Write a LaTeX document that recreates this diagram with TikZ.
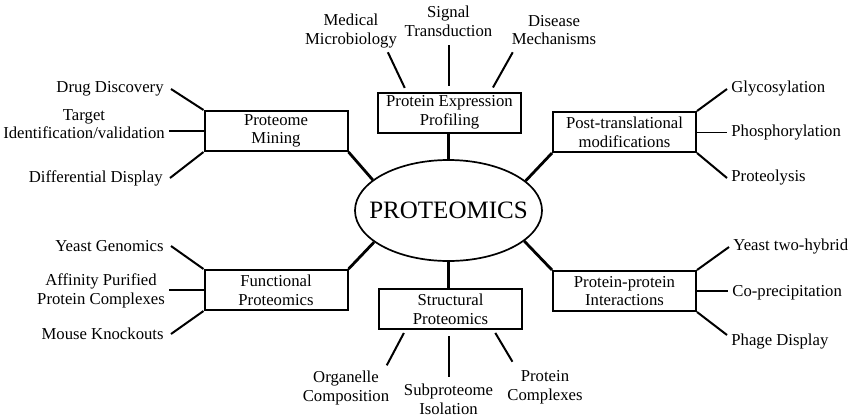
\documentclass[tikz,border=0pt]{standalone}
\usepackage{fontspec}
\setmainfont{Liberation Serif}
\usetikzlibrary{shapes.geometric}

\begin{document}
\begin{tikzpicture}[x=0.5pt,y=-0.5pt,font=\fontsize{8.35}{9.3}\selectfont]
% Map style
\tikzset{
    hub/.style={ellipse,draw,line width=0.85pt,minimum width=93.5pt,minimum height=50.5pt,inner sep=0pt},
    topic/.style={rectangle,draw,line width=1pt,minimum width=71.5pt,minimum height=20pt,inner sep=0pt,align=center},
    item/.style={align=center,inner sep=2pt},
    side/.style={inner sep=3.5pt},
    spoke/.style={line width=1.4pt},
    twig/.style={line width=1pt}
}
\useasboundingbox (0,0) rectangle (850,418);
% Centre and topics
\node[hub,label={[font=\fontsize{12.5}{15}\selectfont]center:PROTEOMICS}] (proteo) at (448.5,210.5){};
\node[topic] (expr) at (449.5,112.5){Protein Expression\\Profiling};
\node[topic] (mining) at (276,131){Proteome\\Mining};
\node[topic] (ptm) at (624.5,132){Post-translational\\modifications};
\node[topic] (func) at (276,290){Functional\\Proteomics};
\node[topic] (struct) at (450.5,309){Structural\\Proteomics};
\node[topic] (ppi) at (624.5,291){Protein-protein\\Interactions};
% Leaves
\node[item] (med) at (351,31){Medical\\Microbiology};
\node[item] (signal) at (448.5,21){Signal\\Transduction};
\node[item] (disease) at (554,30){Disease\\Mechanisms};
\node[side,anchor=east] (drug) at (171,89){Drug Discovery};
\node[item] (target) at (84,124){Target\\Identification/validation};
\node[side,anchor=east] (diff) at (170,178){Differential Display};
\node[item,anchor=west] (glyco) at (727,89){Glycosylation};
\node[item,anchor=west] (phospho) at (727,133){Phosphorylation};
\node[item,anchor=west] (lysis) at (727,178){Proteolysis};
\node[side,anchor=east] (yeastg) at (171,246){Yeast Genomics};
\node[item] (affinity) at (101,291){Affinity Purified\\Protein Complexes};
\node[side,anchor=east] (mouse) at (171,334){Mouse Knockouts};
\node[item,anchor=west] (yeasttwo) at (729,247){Yeast two-hybrid};
\node[item,anchor=west] (coprec) at (728,293){Co-precipitation};
\node[item,anchor=west] (phage) at (727,341){Phage Display};
\node[item] (organelle) at (346,388){Organelle\\Composition};
\node[item] (subprot) at (448.5,399){Subproteome\\Isolation};
\node[item] (complex) at (545,387){Protein\\Complexes};
% Spokes
\draw[spoke] (proteo.north |- expr.south) -- (proteo.north);
\draw[spoke] (mining.south east) -- (proteo.158);
\draw[spoke] (ptm.south west) -- (proteo.21);
\draw[spoke] (func.north east) -- (proteo.203);
\draw[spoke] (ppi.north west) -- (proteo.-22);
\draw[spoke] (proteo.south) -- (proteo.south |- struct.north);
% Twigs
\draw[twig,shorten <=2pt] (expr.154) -- (med.-30);
\draw[twig,shorten <=3pt,shorten >=2pt] (signal.south |- expr.north) -- (signal.south);
\draw[twig,shorten <=2.3pt,shorten >=1.7pt] (expr.27) -- (disease.206);
\draw[twig] (mining.north west) -- (drug.east);
\draw[twig] (mining.west) -- (mining.west -| target.east);
\draw[twig] (mining.south west) -- (diff.east);
\draw[twig] (ptm.north east) -- (glyco.west);
\draw[line width=0.5pt] (ptm.east) -- (ptm.east -| phospho.west);
\draw[twig] (ptm.south east) -- (lysis.west);
\draw[twig] (func.north west) -- (yeastg.east);
\draw[twig] (func.west) -- (func.west -| affinity.east);
\draw[twig] (func.south west) -- (mouse.east);
\draw[twig] (ppi.north east) -- (yeasttwo.west);
\draw[twig] (ppi.east) -- (ppi.east -| coprec.west);
\draw[twig] (ppi.south east) -- ([yshift=3pt]phage.west);
\draw[twig,shorten <=1.7pt,shorten >=0.8pt] (struct.205.6) -- (organelle.28);
\draw[twig,shorten <=3pt,shorten >=1.3pt] (subprot.north |- struct.south) -- (subprot.north);
\draw[twig,shorten <=1.7pt,shorten >=2.5pt] (struct.-26.6) -- (complex.145);
\end{tikzpicture}
\end{document}
